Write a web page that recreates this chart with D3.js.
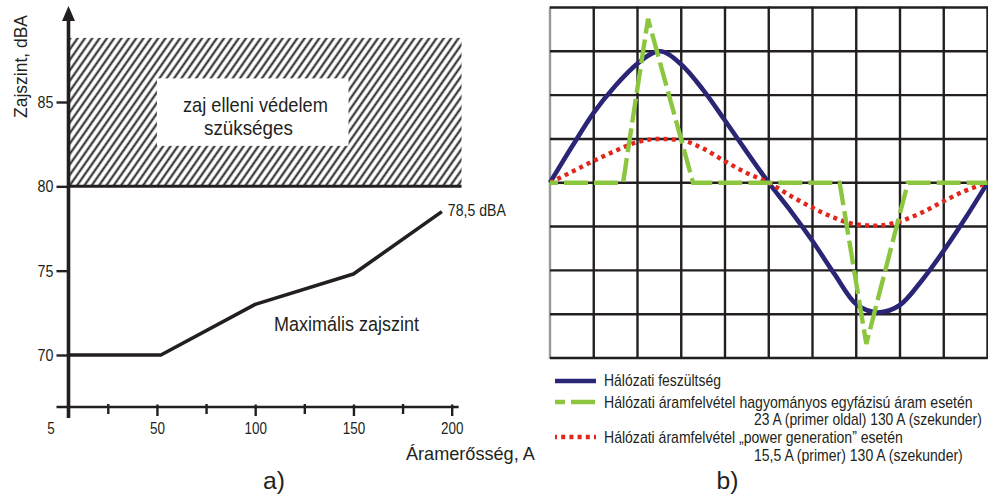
<!DOCTYPE html>
<html>
<head>
<meta charset="utf-8">
<script src="https://cdn.jsdelivr.net/npm/d3@7"></script>
<style>
  html, body { margin: 0; padding: 0; background: #fff; }
  svg { display: block; }
  text { font-family: "Liberation Sans", Arial, sans-serif; fill: #231f20; }
</style>
</head>
<body>
<svg id="chart" width="988" height="495"></svg>
<script>
// ---- Panel a): maximum noise level as a function of current ----
const currentA = [5, 52, 100, 150, 195];
const noiseDbA = [70, 70, 73, 74.8, 78.5];
const currentTicks = [5, 50, 100, 150, 200];
const currentMinorTicks = [25, 75, 125, 175];
const noiseTicks = [70, 75, 80, 85];
const protectionDbA = [80, 88.8];      // band where noise protection is required
const protectionCurrent = [5, 205];
const noteBoxCurrent = [50, 147.5];    // white box behind the band caption
const noteBoxDbA = [82.4, 86.4];

// ---- Panel b): one mains period, in grid divisions ----
const phase = [0, 0.5, 1, 1.5, 2, 2.5, 3, 3.5, 4, 4.5, 5, 5.5, 6, 6.5, 7, 7.5, 8, 8.5, 9, 9.5, 10];
const voltage = [0, 0.82, 1.6, 2.22, 2.72, 3.0, 2.7, 2.12, 1.42, 0.7, 0, -0.64, -1.33, -2.08, -2.77, -2.96, -2.79, -2.23, -1.55, -0.8, 0];
const powerGenCurrent = [0, 0.25, 0.5, 0.73, 0.93, 1.0, 0.97, 0.78, 0.49, 0.22, 0, -0.3, -0.57, -0.8, -0.95, -0.98, -0.88, -0.68, -0.42, -0.18, 0];
const classicPhase = [0, 1.67, 2.24, 3.27, 6.62, 7.23, 8.18, 10];
const classicCurrent = [0, 0, 3.74, 0, 0, -3.68, 0, 0];

const legendItems = [
  { key: "voltage", lines: ["Hálózati feszültség"] },
  { key: "classic", lines: ["Hálózati áramfelvétel hagyományos egyfázisú áram esetén", "23 A (primer oldal) 130 A (szekunder)"] },
  { key: "powergen", lines: ["Hálózati áramfelvétel „power generation” esetén", "15,5 A (primer) 130 A (szekunder)"] }
];

const INK = "#231f20";
const NAVY = "#2a2574";
const GREEN = "#8cc63f";
const RED = "#e2261c";

const svg = d3.select("#chart");

// squeeze a text element horizontally to a given width (condensed face look)
function fit(sel, w) {
  const w0 = sel.node().getComputedTextLength();
  const x = +sel.attr("x") || 0;
  const y = +sel.attr("y") || 0;
  const pre = sel.attr("transform") || "";
  sel.attr("x", null).attr("y", null)
    .attr("transform", `${pre} translate(${x},${y}) scale(${(w / w0).toFixed(4)},1)`);
  return sel;
}
function condense(sel, k) {
  sel.each(function () {
    const t = d3.select(this);
    fit(t, this.getComputedTextLength() * k);
  });
}

// ================= Panel a) =================
const xA = d3.scaleLinear().domain([5, 200]).range([68.5, 451.7]);
const yA = d3.scaleLinear().domain([70, 85]).range([355, 102]);
const axisY = 407;

const defs = svg.append("defs");
const hatch = defs.append("pattern")
  .attr("id", "hatch")
  .attr("patternUnits", "userSpaceOnUse")
  .attr("width", 6.0).attr("height", 10)
  .attr("patternTransform", "rotate(35)");
hatch.append("rect").attr("width", 6.0).attr("height", 10).attr("fill", "#fff");
hatch.append("line")
  .attr("x1", 1.5).attr("x2", 1.5).attr("y1", -1).attr("y2", 11)
  .attr("stroke", INK).attr("stroke-width", 2.0);

const panelA = svg.append("g");

// hatched "protection required" band
panelA.append("rect")
  .attr("x", xA(protectionCurrent[0]))
  .attr("y", yA(protectionDbA[1]))
  .attr("width", xA(protectionCurrent[1]) - xA(protectionCurrent[0]))
  .attr("height", yA(protectionDbA[0]) - yA(protectionDbA[1]))
  .attr("fill", "url(#hatch)");

panelA.append("rect")
  .attr("x", xA(noteBoxCurrent[0]))
  .attr("y", yA(noteBoxDbA[1]))
  .attr("width", xA(noteBoxCurrent[1]) - xA(noteBoxCurrent[0]))
  .attr("height", yA(noteBoxDbA[0]) - yA(noteBoxDbA[1]))
  .attr("fill", "#fff");

fit(panelA.append("text").attr("x", 183).attr("y", 111.5).attr("font-size", 20).text("zaj elleni védelem"), 145);
fit(panelA.append("text").attr("x", 204).attr("y", 135).attr("font-size", 20).text("szükséges"), 89);

// limit line at 80 dBA
panelA.append("line")
  .attr("x1", xA(protectionCurrent[0])).attr("x2", xA(protectionCurrent[1]))
  .attr("y1", yA(80)).attr("y2", yA(80))
  .attr("stroke", INK).attr("stroke-width", 3);

// y axis ticks & labels
const gy = panelA.append("g")
  .attr("transform", `translate(${xA(5)},0)`)
  .call(d3.axisLeft(yA).tickValues(noiseTicks).tickSize(12).tickPadding(3));
gy.attr("font-family", null).attr("font-size", null);
gy.select(".domain").remove();
gy.selectAll(".tick line").attr("stroke", INK).attr("stroke-width", 2.4);
gy.selectAll(".tick text").attr("font-size", 17).attr("fill", INK);
condense(gy.selectAll(".tick text"), 0.84);

// x axis ticks & labels
const gx = panelA.append("g")
  .attr("transform", `translate(0,${axisY})`)
  .call(d3.axisBottom(xA).tickValues(currentTicks).tickSize(9).tickPadding(7));
gx.attr("font-family", null).attr("font-size", null);
gx.select(".domain").remove();
gx.selectAll(".tick line").attr("y1", -2.5).attr("stroke", INK).attr("stroke-width", 2.4);
gx.selectAll(".tick").filter(d => d === 5).select("line").remove();
gx.selectAll(".tick text").attr("font-size", 16).attr("fill", INK).attr("dy", null)
  .attr("y", 27);
gx.selectAll(".tick").filter(d => d === 5).select("text").attr("x", -18);
condense(gx.selectAll(".tick text"), 0.84);

const gxm = panelA.append("g")
  .attr("transform", `translate(0,${axisY})`)
  .call(d3.axisBottom(xA).tickValues(currentMinorTicks).tickSize(7).tickFormat(""));
gxm.select(".domain").remove();
gxm.selectAll(".tick line").attr("y1", -3).attr("stroke", INK).attr("stroke-width", 2.4);

// axis lines
panelA.append("line")
  .attr("x1", xA(5) - 12).attr("x2", xA(200) + 7)
  .attr("y1", axisY).attr("y2", axisY)
  .attr("stroke", INK).attr("stroke-width", 2.6);
panelA.append("line")
  .attr("x1", xA(5)).attr("x2", xA(5))
  .attr("y1", 418).attr("y2", 16)
  .attr("stroke", INK).attr("stroke-width", 3.6);
panelA.append("path")
  .attr("d", `M${xA(5)},6 L${xA(5) - 6.5},21 L${xA(5) + 6.5},21 Z`)
  .attr("fill", INK);

// maximum noise curve
const noisePts = currentA.map((c, i) => [c, noiseDbA[i]]);
panelA.append("path")
  .datum(noisePts)
  .attr("d", d3.line().x(d => xA(d[0])).y(d => yA(d[1])))
  .attr("fill", "none")
  .attr("stroke", INK)
  .attr("stroke-width", 3.6)
  .attr("stroke-linejoin", "round");

const lastPt = noisePts[noisePts.length - 1];
fit(panelA.append("text")
  .attr("x", xA(lastPt[0]) + 6)
  .attr("y", yA(lastPt[1]) + 4)
  .attr("font-size", 16)
  .text(String(lastPt[1]).replace(".", ",") + " dBA"), 58);

fit(panelA.append("text").attr("x", 274).attr("y", 331).attr("font-size", 19.5).text("Maximális zajszint"), 145);

fit(panelA.append("text")
  .attr("transform", "translate(27,66.5) rotate(-90)")
  .attr("text-anchor", "middle")
  .attr("font-size", 19)
  .text("Zajszint, dBA"), 103);

fit(panelA.append("text").attr("x", 406).attr("y", 460).attr("font-size", 17.5).text("Áramerősség, A"), 129);
fit(panelA.append("text").attr("x", 263).attr("y", 488.5).attr("font-size", 24).text("a)"), 22);

// ================= Panel b) =================
const xB = d3.scaleLinear().domain([0, 10]).range([550, 987.5]);
const yB = d3.scaleLinear().domain([-4, 4]).range([358, 7.5]);

const panelB = svg.append("g");
const grid = panelB.append("g");
grid.selectAll("line.v")
  .data(xB.ticks(10))
  .join("line")
  .attr("class", "v")
  .attr("x1", d => xB(d)).attr("x2", d => xB(d))
  .attr("y1", yB(4) - 1).attr("y2", yB(-4) + 1)
  .attr("stroke", d => d === 0 ? "#9a9a9a" : INK)
  .attr("stroke-width", 2.4);
grid.selectAll("line.h")
  .data(yB.ticks(8))
  .join("line")
  .attr("class", "h")
  .attr("x1", xB(0)).attr("x2", xB(10))
  .attr("y1", d => yB(d)).attr("y2", d => yB(d))
  .attr("stroke", INK)
  .attr("stroke-width", 2.4);

const smooth = d3.line().x(d => xB(d[0])).y(d => yB(d[1])).curve(d3.curveMonotoneX);
const straight = d3.line().x(d => xB(d[0])).y(d => yB(d[1]));

panelB.append("path")
  .datum(phase.map((p, i) => [p, voltage[i]]))
  .attr("d", smooth)
  .attr("fill", "none").attr("stroke", NAVY).attr("stroke-width", 4.6);

panelB.append("path")
  .datum(phase.map((p, i) => [p, powerGenCurrent[i]]))
  .attr("d", smooth)
  .attr("fill", "none").attr("stroke", RED).attr("stroke-width", 4.4)
  .attr("stroke-dasharray", "4 4.2");

panelB.append("path")
  .datum(classicPhase.map((p, i) => [p, classicCurrent[i]]))
  .attr("d", straight)
  .attr("fill", "none").attr("stroke", GREEN).attr("stroke-width", 4.4)
  .attr("stroke-dasharray", "24 6")
  .attr("stroke-dashoffset", 16);

// legend
const legendStyle = {
  voltage: { stroke: NAVY, dash: null, offset: 0 },
  classic: { stroke: GREEN, dash: "24 6", offset: 14 },
  powergen: { stroke: RED, dash: "4 4.2", offset: 2 }
};
const legendRows = [
  { y: 381, texts: [{ x: 604, y: 386, w: 117 }] },
  { y: 402, texts: [{ x: 604, y: 407.5, w: 369 }, { x: 754, y: 424.5, w: 228 }] },
  { y: 437, texts: [{ x: 604, y: 442.5, w: 299 }, { x: 754, y: 460.5, w: 209 }] }
];
legendItems.forEach((item, i) => {
  const st = legendStyle[item.key];
  const row = legendRows[i];
  panelB.append("line")
    .attr("x1", 555).attr("x2", 596)
    .attr("y1", row.y).attr("y2", row.y)
    .attr("stroke", st.stroke).attr("stroke-width", 4.6)
    .attr("stroke-dasharray", st.dash)
    .attr("stroke-dashoffset", st.offset);
  item.lines.forEach((t, j) => {
    const pos = row.texts[j];
    fit(panelB.append("text").attr("x", pos.x).attr("y", pos.y).attr("font-size", 16).text(t), pos.w);
  });
});

fit(panelB.append("text").attr("x", 716.5).attr("y", 488.5).attr("font-size", 24).text("b)"), 22);
</script>
</body>
</html>
